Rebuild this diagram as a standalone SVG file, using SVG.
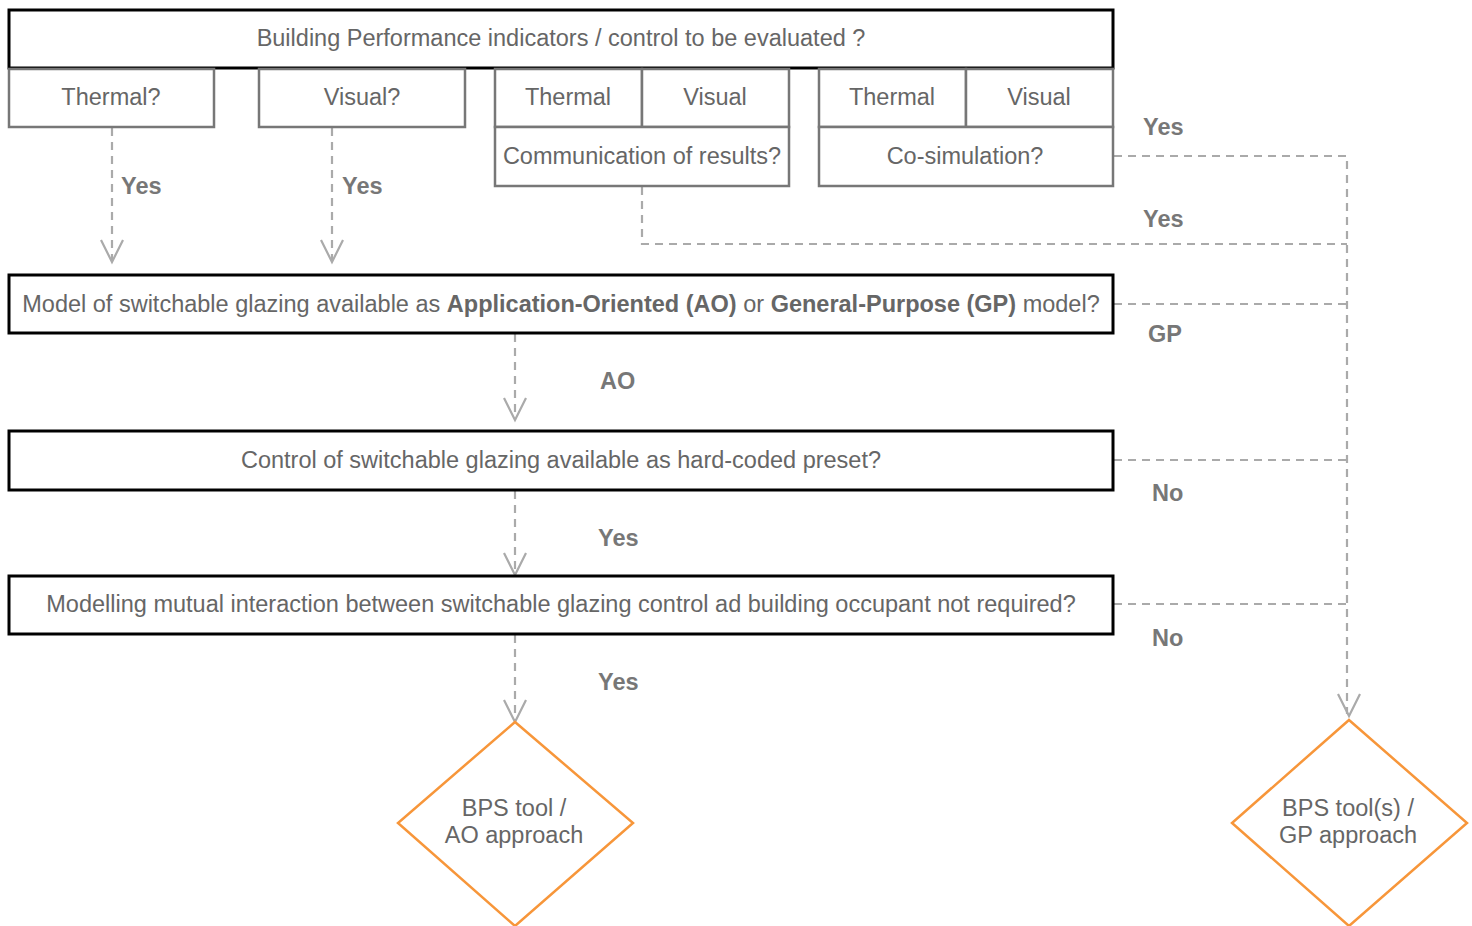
<svg xmlns="http://www.w3.org/2000/svg" width="1472" height="926" viewBox="0 0 1472 926">
<defs>
<style>
text{font-family:"Liberation Sans",Arial,Helvetica,sans-serif;fill:#666;}
.t{font-size:23.5px;text-anchor:middle;}
.lbl{font-size:23.5px;font-weight:bold;fill:#777;}
.b{font-weight:bold;}
.main{fill:#fff;stroke:#000;stroke-width:3;}
.sub{fill:#fff;stroke:#777;stroke-width:2.5;}
.dia{fill:#fff;stroke:#f7963a;stroke-width:2.5;}
.con{fill:none;stroke:#aaa;stroke-width:2.2;stroke-dasharray:8 6;}
.arr{fill:none;stroke:#aaa;stroke-width:2.2;}
</style>
</defs>
<rect width="1472" height="926" fill="#fff"/>
<g id="connectors">
<path class="con" d="M112 128 V260"/>
<path class="arr" d="M101 240 L112 262 L123 240"/>
<path class="con" d="M332 128 V260"/>
<path class="arr" d="M321 240 L332 262 L343 240"/>
<path class="con" d="M642 187 V244 H1347"/>
<path class="con" d="M1114 156 H1347 V714"/>
<path class="arr" d="M1338 694 L1349 716 L1360 694"/>
<path class="con" d="M1114 304 H1347"/>
<path class="con" d="M1114 460 H1347"/>
<path class="con" d="M1114 604 H1347"/>
<path class="con" d="M515 334 V418"/>
<path class="arr" d="M504 398 L515 420 L526 398"/>
<path class="con" d="M515 491 V573"/>
<path class="arr" d="M504 553 L515 575 L526 553"/>
<path class="con" d="M515 635 V720"/>
<path class="arr" d="M504 700 L515 722 L526 700"/>
<text class="lbl" x="121" y="194">Yes</text>
<text class="lbl" x="342" y="194">Yes</text>
<text class="lbl" x="1143" y="135">Yes</text>
<text class="lbl" x="1143" y="227">Yes</text>
<text class="lbl" x="1148" y="342">GP</text>
<text class="lbl" x="600" y="389">AO</text>
<text class="lbl" x="1152" y="501">No</text>
<text class="lbl" x="598" y="546">Yes</text>
<text class="lbl" x="1152" y="646">No</text>
<text class="lbl" x="598" y="690">Yes</text>
</g>
<g id="n-top">
<rect class="main" x="9" y="10" width="1104" height="58"/>
<text class="t" x="561" y="46">Building Performance indicators / control to be evaluated ?</text>
</g>
<g id="n-thermal">
<rect class="sub" x="9" y="69" width="205" height="58"/>
<text class="t" x="111" y="105">Thermal?</text>
</g>
<g id="n-visual">
<rect class="sub" x="259" y="69" width="206" height="58"/>
<text class="t" x="362" y="105">Visual?</text>
</g>
<g id="n-comm">
<rect class="sub" x="495" y="69" width="147" height="58"/>
<rect class="sub" x="642" y="69" width="147" height="58"/>
<rect class="sub" x="495" y="127" width="294" height="59"/>
<text class="t" x="568" y="105">Thermal</text>
<text class="t" x="715" y="105">Visual</text>
<text class="t" x="642" y="164">Communication of results?</text>
</g>
<g id="n-cosim">
<rect class="sub" x="819" y="69" width="147" height="58"/>
<rect class="sub" x="966" y="69" width="147" height="58"/>
<rect class="sub" x="819" y="127" width="294" height="59"/>
<text class="t" x="892" y="105">Thermal</text>
<text class="t" x="1039" y="105">Visual</text>
<text class="t" x="965" y="164">Co-simulation?</text>
</g>
<g id="n-model">
<rect class="main" x="9" y="275" width="1104" height="58"/>
<text class="t" x="561" y="312">Model of switchable glazing available as <tspan class="b">Application-Oriented (AO)</tspan> or <tspan class="b">General-Purpose (GP)</tspan> model?</text>
</g>
<g id="n-control">
<rect class="main" x="9" y="431" width="1104" height="59"/>
<text class="t" x="561" y="468">Control of switchable glazing available as hard-coded preset?</text>
</g>
<g id="n-occupant">
<rect class="main" x="9" y="576" width="1104" height="58"/>
<text class="t" x="561" y="612">Modelling mutual interaction between switchable glazing control ad building occupant not required?</text>
</g>
<g id="n-ao">
<polygon class="dia" points="515,722 633,823 515,926 398,823"/>
<text class="t" x="514" y="816">BPS tool /</text>
<text class="t" x="514" y="843">AO approach</text>
</g>
<g id="n-gp">
<polygon class="dia" points="1349,720 1467,823 1349,926 1232,823"/>
<text class="t" x="1348" y="816">BPS tool(s) /</text>
<text class="t" x="1348" y="843">GP approach</text>
</g>
</svg>
